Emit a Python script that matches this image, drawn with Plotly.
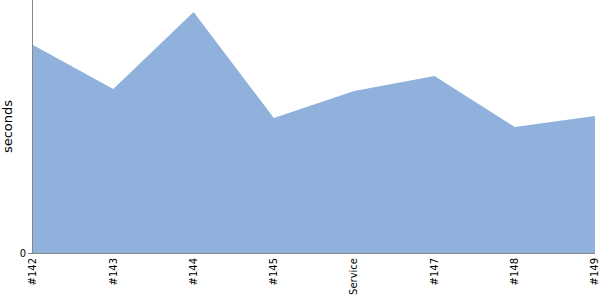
import plotly.graph_objects as go

categories = ["#142", "#143", "#144", "#145", "Service", "#147", "#148", "#149"]
seconds = [208, 164, 241, 135, 162, 177, 126, 137]

fig = go.Figure()
fig.add_trace(go.Scatter(
    x=categories, y=seconds, mode="lines", fill="tozeroy",
    line=dict(width=0, color="#8fb1db"), fillcolor="#8fb1db",
    hoverinfo="skip",
))
fig.update_layout(
    width=600, height=300,
    margin=dict(l=33, r=5, t=0, b=47),
    paper_bgcolor="white", plot_bgcolor="white",
    showlegend=False,
    font=dict(family="DejaVu Sans", size=10, color="black"),
)
fig.update_xaxes(
    type="category", range=[0, len(categories) - 1],
    showgrid=False, zeroline=False,
    showline=True, linecolor="#888", linewidth=1,
    tickangle=-90, ticks="", automargin=False,
    tickfont=dict(size=10),
)
fig.update_yaxes(
    range=[0, 253], tickvals=[0], ticktext=["0"],
    showgrid=False, zeroline=False,
    showline=True, linecolor="#888", linewidth=1,
    ticks="outside", ticklen=4, tickcolor="#888",
    automargin=False,
    title=dict(text="seconds", font=dict(size=13), standoff=5),
    tickfont=dict(size=10),
)
fig.write_html("out.html")
